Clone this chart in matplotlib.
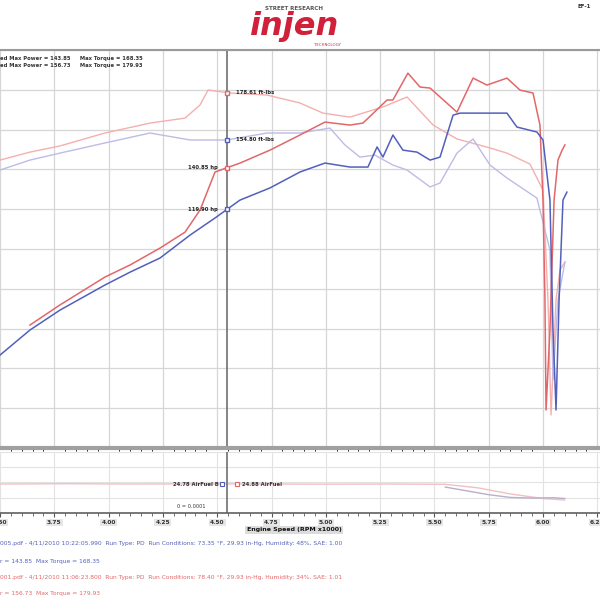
import matplotlib
matplotlib.use("Agg")
import matplotlib.pyplot as plt
import numpy as np

plt.rcParams['font.family'] = ['DejaVu Sans']

# engine speed (RPM x1000) and curve values
blue_hp_rpm = [3.500, 3.638, 3.776, 3.983, 4.099, 4.237, 4.375, 4.490, 4.605, 4.743, 4.881, 4.996,
               5.111, 5.194, 5.236, 5.263, 5.309, 5.355, 5.420, 5.480, 5.526, 5.586, 5.618, 5.834,
               5.880, 5.972, 6.000, 6.032, 6.046, 6.060, 6.074, 6.092, 6.110]
blue_hp = [46.7, 59.3, 69.3, 81.9, 88.4, 95.5, 107.0, 115.6, 124.6, 130.7, 138.7, 143.2,
           141.2, 141.2, 151.3, 146.2, 157.3, 149.7, 148.7, 144.7, 146.2, 167.3, 168.3, 168.3,
           161.3, 158.8, 154.8, 124.6, 59.3, 19.1, 74.4, 124.6, 128.6]

red_hp_rpm = [3.638, 3.776, 3.983, 4.099, 4.237, 4.352, 4.421, 4.490, 4.605, 4.743, 4.881, 4.996,
              5.111, 5.171, 5.282, 5.309, 5.378, 5.434, 5.480, 5.604, 5.678, 5.742, 5.834, 5.894,
              5.954, 5.986, 6.000, 6.009, 6.014, 6.032, 6.051, 6.069, 6.088, 6.101]
red_hp = [61.8, 71.9, 85.9, 92.0, 100.5, 108.5, 119.6, 138.7, 143.2, 149.7, 157.3, 163.8,
          162.3, 163.3, 174.9, 174.9, 188.4, 181.4, 180.9, 168.8, 185.9, 182.4, 185.9, 179.9,
          178.4, 162.3, 124.6, 74.4, 19.1, 59.3, 124.6, 144.7, 149.7, 152.3]

red_tq_rpm = [3.500, 3.638, 3.776, 3.983, 4.191, 4.352, 4.421, 4.458, 4.559, 4.729, 4.881, 4.987,
              5.111, 5.263, 5.374, 5.494, 5.604, 5.756, 5.834, 5.940, 6.000, 6.023, 6.037, 6.060,
              6.078, 6.101]
red_tq = [144.7, 148.7, 151.8, 158.3, 163.3, 165.8, 172.4, 179.9, 178.4, 177.4, 173.4, 168.3,
          166.3, 171.4, 176.4, 162.3, 155.3, 150.8, 148.2, 142.7, 129.6, 74.4, 16.6, 74.4,
          89.4, 93.5]

blue_tq_rpm = [3.500, 3.638, 3.776, 3.983, 4.191, 4.375, 4.545, 4.729, 4.881, 5.019, 5.088, 5.157,
               5.226, 5.309, 5.374, 5.480, 5.526, 5.604, 5.678, 5.756, 5.834, 5.972, 6.032,
               6.046, 6.069, 6.101]
blue_tq = [139.7, 144.7, 148.2, 153.3, 158.3, 154.8, 154.8, 158.3, 158.3, 160.8, 152.3, 146.2,
           147.2, 142.2, 139.7, 131.2, 133.2, 148.2, 155.3, 142.2, 135.7, 125.6, 99.5,
           34.2, 74.4, 93.5]

# air/fuel strip
af_red_rpm = [3.50, 3.80, 4.10, 4.40, 4.70, 5.00, 5.30, 5.55, 5.70, 5.85, 6.00, 6.10]
af_red = [1.90, 1.92, 1.90, 1.91, 1.90, 1.89, 1.90, 1.88, 1.65, 1.25, 0.95, 0.85]
af_blue_rpm = [5.55, 5.65, 5.75, 5.85, 5.95, 6.05, 6.10]
af_blue = [1.70, 1.45, 1.20, 1.02, 0.98, 1.00, 0.95]

cursor_rpm = 4.545
x_ticks = [3.50, 3.75, 4.00, 4.25, 4.50, 4.75, 5.00, 5.25, 5.50, 5.75, 6.00, 6.25]

c_red = '#e2676a'
c_blue = '#5260bc'
c_lred = '#f3b0ae'
c_lblue = '#bcbce6'
grid_c = '#d6d6d6'

fig = plt.figure(figsize=(6, 6), dpi=100)
ax = fig.add_axes([0.0, 0.2533, 1.0, 0.6633])
sub = fig.add_axes([0.0, 0.145, 1.0, 0.1017], sharex=ax)

xmax = 3.5 + 600 / 217.2
ax.set_xlim(3.5, xmax)
ax.set_ylim(0, 200)
ax.set_yticks(np.arange(0, 201, 20))
ax.set_xticks(x_ticks)
ax.grid(True, color=grid_c, lw=0.9)
ax.tick_params(left=False, labelleft=False, bottom=False, labelbottom=False)
for s in ['left', 'right']:
    ax.spines[s].set_visible(False)
ax.spines['top'].set_color('#9a9a9a')
ax.spines['top'].set_linewidth(1.5)
ax.spines['bottom'].set_color('#a0a0a0')
ax.spines['bottom'].set_linewidth(3)

ax.plot(red_tq_rpm, red_tq, color=c_lred, lw=1.0)
ax.plot(blue_tq_rpm, blue_tq, color=c_lblue, lw=1.0)
ax.plot(red_hp_rpm, red_hp, color=c_red, lw=1.1)
ax.plot(blue_hp_rpm, blue_hp, color=c_blue, lw=1.1)
ax.axvline(cursor_rpm, color='#707070', lw=1.2)

# cursor readouts
for rpm, vals, col, unit, side in [(red_tq_rpm, red_tq, c_red, 'ft-lbs', 1),
                                   (blue_tq_rpm, blue_tq, c_blue, 'ft-lbs', 1),
                                   (red_hp_rpm, red_hp, c_red, 'hp', -1),
                                   (blue_hp_rpm, blue_hp, c_blue, 'hp', -1)]:
    v = np.interp(cursor_rpm, rpm, vals)
    ax.plot([cursor_rpm], [v], marker='s', ms=3.5, mfc='white', mec=col, mew=1)
    ax.text(cursor_rpm + side * 0.04, v, f"{v:.2f} {unit}", fontsize=3.8,
            ha='left' if side > 0 else 'right', va='center', color='#222222', fontweight='bold')

ax.text(0.0, 0.985, "ed Max Power = 143.85     Max Torque = 168.35", transform=ax.transAxes,
        fontsize=3.8, va='top', color='#333333', fontweight='bold')
ax.text(0.0, 0.968, "ed Max Power = 156.73     Max Torque = 179.93", transform=ax.transAxes,
        fontsize=3.8, va='top', color='#333333', fontweight='bold')

# air/fuel strip
sub.set_ylim(0, 4)
sub.set_yticks([0, 1, 2, 3, 4])
sub.grid(True, color='#e2e2e2', lw=0.8)
sub.plot(af_red_rpm, af_red, color='#f0c0c4', lw=1.0)
sub.plot(af_blue_rpm, af_blue, color='#b8b0c8', lw=1.0)
sub.axvline(cursor_rpm, color='#707070', lw=1.2)
for s in ['left', 'right', 'top']:
    sub.spines[s].set_visible(False)
sub.spines['bottom'].set_color('#606060')
sub.spines['bottom'].set_linewidth(1.2)
sub.tick_params(left=False, labelleft=False)
sub.set_xticks(x_ticks)
sub.set_xticks(np.arange(3.5, 6.3, 0.05), minor=True)
sub.tick_params(axis='x', which='major', length=3, width=0.8, color='#555555', pad=2)
sub.tick_params(axis='x', which='minor', length=2, width=0.6, color='#555555')
sub.set_xticklabels([f"{t:.2f}" for t in x_ticks], fontsize=4.2, fontweight='bold', color='#333333')
for lab in sub.get_xticklabels():
    lab.set_bbox(dict(facecolor='#e6e6e6', edgecolor='none', pad=0.8))
sub.set_xlim(3.5, xmax)

sub.text(cursor_rpm - 0.04, 1.9, "24.78 AirFuel B", fontsize=3.8, ha='right', va='center',
         color='#333333', fontweight='bold')
sub.plot([cursor_rpm - 0.025], [1.9], marker='s', ms=2.5, mfc='white', mec=c_blue, mew=0.8)
sub.plot([cursor_rpm + 0.045], [1.9], marker='s', ms=2.5, mfc='white', mec=c_red, mew=0.8)
sub.text(cursor_rpm + 0.07, 1.9, "24.88 AirFuel", fontsize=3.8, ha='left', va='center',
         color='#333333', fontweight='bold')
sub.text(cursor_rpm - 0.1, 0.45, "0 = 0.0001", fontsize=3.6, ha='right', va='center',
         color='#333333')

fig.text(0.49, 1 - 530 / 600, "Engine Speed (RPM x1000)", fontsize=4.5, fontweight='bold',
         ha='center', va='center', color='#111111',
         bbox=dict(facecolor='#dcdcdc', edgecolor='none', pad=1))

# run notes
notes = [
    ("005.pdf - 4/11/2010 10:22:05.990  Run Type: PD  Run Conditions: 73.35 \u00b0F, 29.93 in-Hg, Humidity: 48%, SAE: 1.00", c_blue, 543),
    ("r = 143.85  Max Torque = 168.35", c_blue, 562),
    ("001.pdf - 4/11/2010 11:06:23.800  Run Type: PD  Run Conditions: 78.40 \u00b0F, 29.93 in-Hg, Humidity: 34%, SAE: 1.01", c_red, 577),
    ("r = 156.73  Max Torque = 179.93", c_red, 593),
]
for txt, col, py in notes:
    fig.text(0.0, 1 - py / 600, txt, fontsize=4.3, color=col, va='center', ha='left')

# header logo
fig.text(0.49, 1 - 8 / 600, "STREET RESEARCH", fontsize=4, fontweight='bold', color='#555555',
         ha='center', va='center')
fig.text(0.49, 1 - 27 / 600, "injen", fontsize=23, fontweight='bold', color='#d0203a',
         ha='center', va='center', style='italic')
fig.text(0.545, 1 - 45 / 600, "TECHNOLOGY", fontsize=2.8, color='#d0203a', ha='center', va='center')
fig.text(0.985, 1 - 6 / 600, "EF-1", fontsize=4, fontweight='bold', color='#333333',
         ha='right', va='center')

fig.savefig("out.png", dpi=100, facecolor='white')
